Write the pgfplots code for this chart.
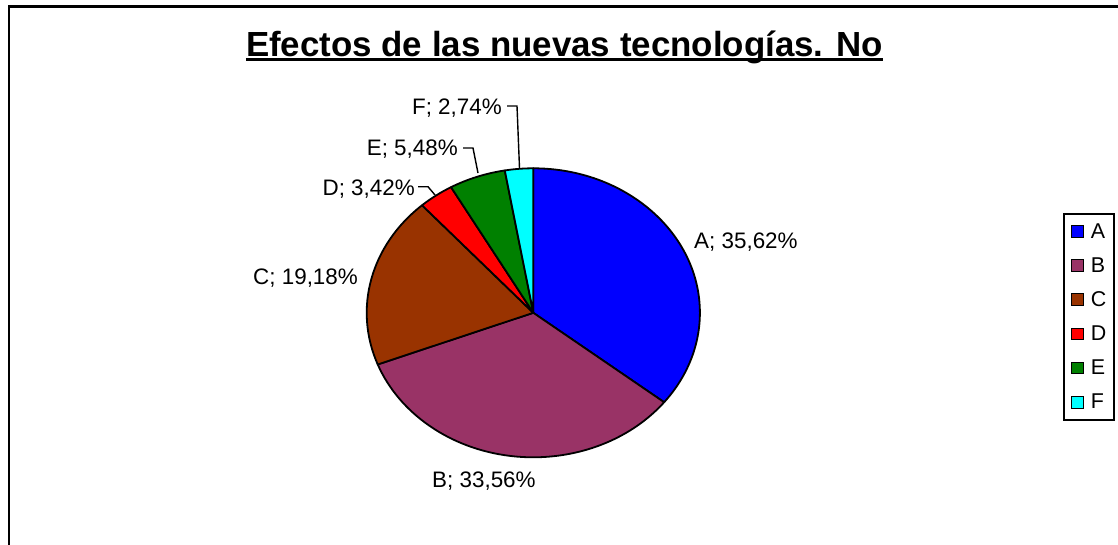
\documentclass[border=0pt]{standalone}
\usepackage{pgfplots}
\usepackage{pgfplotstable}
\pgfplotsset{compat=1.18}
\usepackage{fontspec}
\setmainfont{Liberation Sans}
\definecolor{pA}{HTML}{0000FF}
\definecolor{pB}{HTML}{993366}
\definecolor{pC}{HTML}{993300}
\definecolor{pD}{HTML}{FF0000}
\definecolor{pE}{HTML}{008000}
\definecolor{pF}{HTML}{00FFFF}
\pgfplotstableread{
label pct col
A 35.62 pA
B 33.56 pB
C 19.18 pC
D 3.42 pD
E 5.48 pE
F 2.74 pF
}\piedata
\newcommand{\lblfont}{\fontsize{22.5}{22.5}\selectfont}
\newcommand{\legfont}{\fontsize{21.5}{21.5}\selectfont}
\begin{document}
\begin{tikzpicture}
\path[use as bounding box] (0,0) rectangle (1118bp,545bp);
\begin{axis}[
  at={(0,0)}, anchor=south west,
  width=1118bp, height=545bp, scale only axis,
  xmin=0, xmax=1118, ymin=0, ymax=545, y dir=reverse,
  hide axis, clip=false,
  legend image code/.code={\draw[#1,line width=1bp] (0bp,-5.8bp) rectangle (11.5bp,5.8bp);},
  legend style={at={(axis cs:1063,213)}, anchor=north west, draw=black, line width=1.6bp,
    inner xsep=7.5bp, inner ysep=9.5bp, column sep=7bp,
    row sep=17.9bp, nodes={inner sep=0pt}},
  legend cell align=left,
]
% frame
\draw[line width=2.4bp, black] (axis cs:8.7,560) -- (axis cs:8.7,6.5) -- (axis cs:1130,6.5);
% pie slices
\def\startang{90}
\pgfplotsforeachungrouped \i in {0,...,5}{%
  \pgfplotstablegetelem{\i}{pct}\of\piedata \let\pct\pgfplotsretval
  \pgfplotstablegetelem{\i}{col}\of\piedata \let\col\pgfplotsretval
  \pgfmathsetmacro\endang{\startang-3.6*\pct}%
  \edef\temp{\noexpand\filldraw[fill=\col,draw=black,line width=1.8bp,line join=round]
    (axis cs:533.3,312.8) -- ++(\startang:166.6bp and 144.5bp)
    arc[start angle=\startang,end angle=\endang,x radius=166.6bp,y radius=144.5bp] -- cycle;}%
  \temp
  \global\let\startang\endang
}
% leader lines
\draw[line width=1.4bp] (axis cs:418,186.7) -- (axis cs:428,186.7) -- (axis cs:435,195);
\draw[line width=1.4bp] (axis cs:463,148) -- (axis cs:473,148) -- (axis cs:478,173);
\draw[line width=1.4bp] (axis cs:507,106) -- (axis cs:517,106) -- (axis cs:519.5,168);
% labels
\node[anchor=base west,inner sep=0pt] at (axis cs:694,248.5) {\lblfont A; 35,62\%};
\node[anchor=base west,inner sep=0pt] at (axis cs:432,487) {\lblfont B; 33,56\%};
\node[anchor=base west,inner sep=0pt] at (axis cs:253,284) {\lblfont C; 19,18\%};
\node[anchor=base east,inner sep=0pt] at (axis cs:415,195) {\lblfont D; 3,42\%};
\node[anchor=base east,inner sep=0pt] at (axis cs:458,155) {\lblfont E; 5,48\%};
\node[anchor=base east,inner sep=0pt] at (axis cs:502,114) {\lblfont F; 2,74\%};
% title
\node[anchor=base,inner sep=0pt] (t) at (axis cs:564.5,56.7) {\fontsize{35}{35}\selectfont\bfseries Efectos de las nuevas tecnologías. No};
\draw[line width=3bp] ([yshift=-2.5bp]t.base west) -- ([yshift=-2.5bp]t.base east);
% legend
\addlegendimage{fill=pA,draw=black}
\addlegendimage{fill=pB,draw=black}
\addlegendimage{fill=pC,draw=black}
\addlegendimage{fill=pD,draw=black}
\addlegendimage{fill=pE,draw=black}
\addlegendimage{fill=pF,draw=black}
\legend{\legfont A,\legfont B,\legfont C,\legfont D,\legfont E,\legfont F}
\end{axis}
\end{tikzpicture}
\end{document}
